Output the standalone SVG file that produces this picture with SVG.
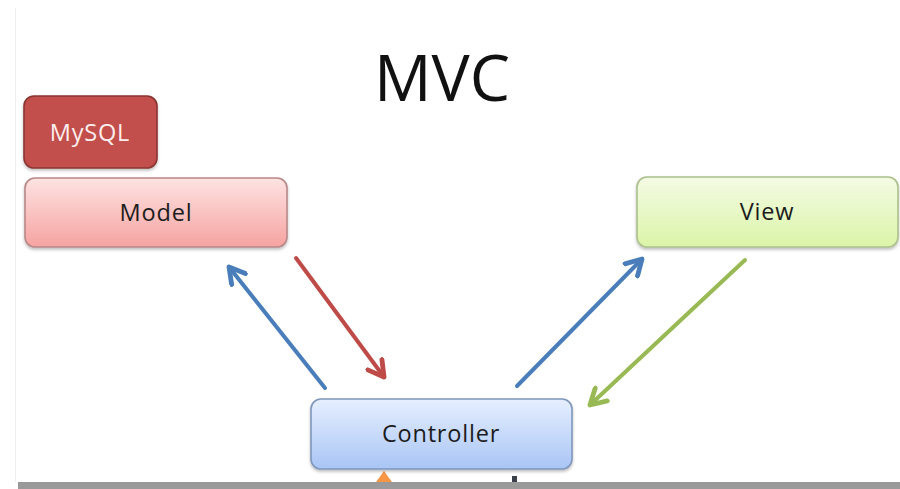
<svg xmlns="http://www.w3.org/2000/svg" width="900" height="489" viewBox="0 0 900 489">
  <style>
    .lbl { font-family: "Open Sans", "Liberation Sans", sans-serif; font-size: 23.5px; font-weight: 500; letter-spacing: 0.8px; text-anchor: middle; dominant-baseline: central; }
    .box { stroke-width: 1.6; }
    .conn { fill: none; stroke-width: 4; stroke-linecap: round; }
  </style>
  <defs>
    <linearGradient id="gModel" x1="0" y1="0" x2="0" y2="1">
      <stop offset="0" stop-color="#fde3e2"/>
      <stop offset="1" stop-color="#f5a3a1"/>
    </linearGradient>
    <linearGradient id="gView" x1="0" y1="0" x2="0" y2="1">
      <stop offset="0" stop-color="#f4fbe4"/>
      <stop offset="1" stop-color="#dbf4a8"/>
    </linearGradient>
    <linearGradient id="gCtrl" x1="0" y1="0" x2="0" y2="1">
      <stop offset="0" stop-color="#e6efff"/>
      <stop offset="1" stop-color="#a9c5f5"/>
    </linearGradient>
    <filter id="shadow" x="-10%" y="-10%" width="120%" height="130%">
      <feDropShadow dx="0" dy="2" stdDeviation="1.5" flood-color="#000" flood-opacity="0.25"/>
    </filter>
    <marker id="aBlue" viewBox="0 0 10 10" refX="8" refY="5" markerWidth="5.5" markerHeight="5.5" orient="auto" markerUnits="strokeWidth">
      <path d="M1,1 L8,5 L1,9" fill="none" stroke="#4a7ebb" stroke-width="2.2" stroke-linecap="round" stroke-linejoin="round"/>
    </marker>
    <marker id="aRed" viewBox="0 0 10 10" refX="8" refY="5" markerWidth="5.5" markerHeight="5.5" orient="auto" markerUnits="strokeWidth">
      <path d="M1,1 L8,5 L1,9" fill="none" stroke="#be4b48" stroke-width="2.2" stroke-linecap="round" stroke-linejoin="round"/>
    </marker>
    <marker id="aGreen" viewBox="0 0 10 10" refX="8" refY="5" markerWidth="5.5" markerHeight="5.5" orient="auto" markerUnits="strokeWidth">
      <path d="M1,1 L8,5 L1,9" fill="none" stroke="#98b954" stroke-width="2.2" stroke-linecap="round" stroke-linejoin="round"/>
    </marker>
  </defs>

  <rect width="900" height="489" fill="#ffffff"/>
  <line x1="15.5" y1="8" x2="15.5" y2="482" stroke="#eeeeee" stroke-width="1"/>

  <text x="442" y="101" font-family="'Open Sans', 'Liberation Sans', sans-serif" font-size="64" text-anchor="middle" fill="#111111">MVC</text>

  <g id="connectors">
    <line class="conn" x1="325" y1="388" x2="229" y2="267" stroke="#4a7ebb" marker-end="url(#aBlue)"/>
    <line class="conn" x1="296" y1="258" x2="384" y2="377" stroke="#be4b48" marker-end="url(#aRed)"/>
    <line class="conn" x1="517" y1="386" x2="642" y2="259" stroke="#4a7ebb" marker-end="url(#aBlue)"/>
    <line class="conn" x1="745" y1="260" x2="590" y2="405" stroke="#98b954" marker-end="url(#aGreen)"/>
    <path d="M376,482 L384,471 L392,482 Z" fill="#f79646"/>
    <rect x="512" y="476" width="5" height="6" fill="#3a3f4a"/>
  </g>

  <g id="mysql">
    <rect class="box" x="24" y="96" width="133" height="72" rx="10" fill="#c24f4c" stroke="#8a3533" filter="url(#shadow)"/>
    <text class="lbl" x="90" y="132" fill="#fdeeee">MySQL</text>
  </g>

  <g id="model">
    <rect class="box" x="25" y="178" width="262" height="69" rx="10" fill="url(#gModel)" stroke="#b88888" filter="url(#shadow)"/>
    <text class="lbl" x="156" y="212" fill="#1c1c1c">Model</text>
  </g>

  <g id="view">
    <rect class="box" x="637" y="177" width="261" height="70" rx="10" fill="url(#gView)" stroke="#abc08d" filter="url(#shadow)"/>
    <text class="lbl" x="767" y="211" fill="#1c1c1c">View</text>
  </g>

  <g id="controller">
    <rect class="box" x="311" y="399" width="261" height="70" rx="10" fill="url(#gCtrl)" stroke="#7f97bb" filter="url(#shadow)"/>
    <text class="lbl" x="441" y="433" fill="#1c1c1c">Controller</text>
  </g>

  <rect x="18" y="482" width="882" height="7" fill="#9a9a9a"/>
</svg>
